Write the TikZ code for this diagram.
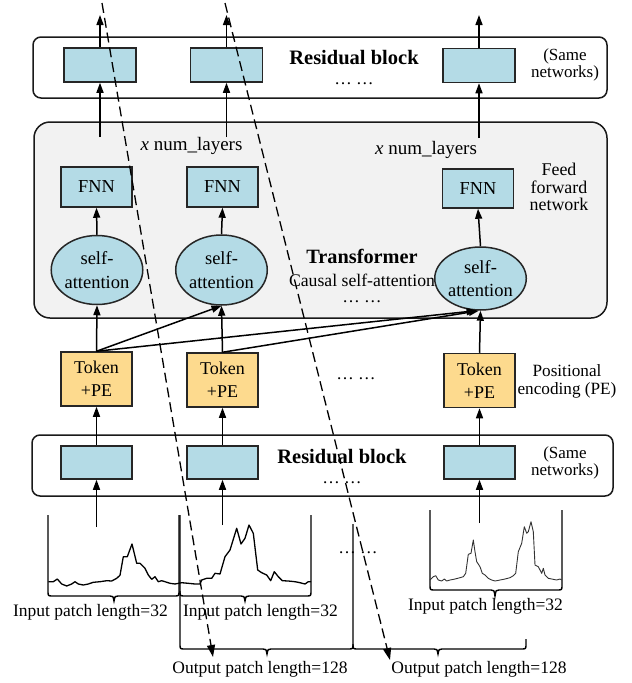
\documentclass[tikz,border=0pt]{standalone}
\usepackage{fontspec}
\setmainfont{Liberation Serif}
\usetikzlibrary{arrows.meta,shapes.geometric}
\definecolor{boxblue}{RGB}{180,219,230}
\definecolor{tokyellow}{RGB}{253,218,142}
\definecolor{panelgray}{RGB}{242,242,242}
\tikzset{
  blk/.style={draw=black!85, line width=1.5pt, fill=boxblue, minimum width=71pt, minimum height=33pt, inner sep=0pt},
  fnn/.style={blk, minimum height=40pt, font=\fontsize{18.3}{20}\selectfont},
  tok/.style={draw=black!85, line width=1.5pt, fill=tokyellow, minimum width=71pt, minimum height=54pt, inner sep=0pt, align=center, font=\fontsize{18}{23}\selectfont},
  att/.style={ellipse, draw=black!85, line width=1.5pt, fill=boxblue, minimum width=90pt, minimum height=69pt, inner sep=0pt, align=center, font=\fontsize{18.5}{23.5}\selectfont},
  arr/.style={-{Triangle[length=10pt,width=7pt]}, line width=1.5pt},
  dasharr/.style={-{Triangle[length=12pt,width=8pt]}, line width=1.3pt, dash pattern=on 10pt off 5pt},
  lbl/.style={font=\fontsize{17.5}{18}\selectfont, align=center, inner sep=0pt},
  big/.style={font=\fontsize{20.5}{22}\selectfont\bfseries, inner sep=0pt},
  frame/.style={draw=black!90, line width=1.5pt, rounded corners=8pt},
  sig/.style={line width=1.3pt, line join=round},
  brk/.style={line width=1.4pt}
}
\begin{document}
\begin{tikzpicture}[x=1pt,y=-1pt]
\useasboundingbox (0,0) rectangle (632,683);
% frames
\draw[frame] (33,37) rectangle (607,98);
\draw[frame, fill=panelgray, rounded corners=16pt] (34,122) rectangle (607,318);
\draw[frame] (32,435) rectangle (613,496);

% top residual block
\node[blk, minimum width=72pt, minimum height=34pt] (r1) at (100,65) {};
\node[blk, minimum width=72pt, minimum height=34pt] (r2) at (226.5,65) {};
\node[blk, minimum width=72pt, minimum height=34pt] (r3) at (479,65.5) {};
\node[big] (rbtop) at (354,58) {Residual block};
\node[lbl] (dtop) at (354,84) {…\ …};
\node[lbl, font=\fontsize{17}{16.5}\selectfont] (sn1) at (565,65) {(Same\\networks)};

% transformer
\node[fnn] (f1) at (96.5,187) {FNN};
\node[fnn] (f2) at (222.5,187) {FNN};
\node[fnn, minimum height=39pt] (f3) at (478,188.5) {FNN};
\node[att] (e1) at (97,270) {self-\\attention};
\node[att, minimum width=88pt, minimum height=70pt] (e2) at (221.5,270) {self-\\attention};
\node[att, minimum width=91pt, minimum height=63pt] (e3) at (480.5,278.5) {self-\\attention};
\node[lbl, font=\fontsize{19}{19}\selectfont] (nl1) at (191.5,146) {\textit{x} num\_layers};
\node[lbl, font=\fontsize{19}{19}\selectfont] (nl2) at (426,150) {\textit{x} num\_layers};
\node[lbl, font=\fontsize{17.9}{17.5}\selectfont] (ffn) at (559,187) {Feed\\forward\\network};
\node[big, font=\fontsize{20.3}{21}\selectfont\bfseries] (trf) at (362,256) {Transformer};
\node[lbl, font=\fontsize{17.7}{18}\selectfont] (csa) at (362,280) {Causal self-attention};
\node[lbl] (dtr) at (362,302) {…\ …};

% tokens
\node[tok] (t1) at (96.5,379) {Token\\+PE};
\node[tok] (t2) at (222.5,380) {Token\\+PE};
\node[tok] (t3) at (479.5,380.5) {Token\\+PE};
\node[lbl] (dtok) at (356,379) {…\ …};
\node[lbl, font=\fontsize{17.2}{18}\selectfont] (pe) at (567,381) {Positional\\encoding (PE)};

% bottom residual block
\node[blk] (b1) at (96.5,462.5) {};
\node[blk] (b2) at (222.5,462.5) {};
\node[blk] (b3) at (479.5,462.5) {};
\node[big] (rbbot) at (342,457) {Residual block};
\node[lbl] (dbot) at (342,483) {…\ …};
\node[lbl, font=\fontsize{17}{16.5}\selectfont] (sn2) at (565,463) {(Same\\networks)};

% coordinates for free ends
\coordinate (o1) at (100,15);
\coordinate (o2) at (226.5,15);
\coordinate (o3) at (479,15);
\coordinate (i1) at (100,137);
\coordinate (i2) at (226.5,137);
\coordinate (i3) at (479,138);
\coordinate (s1) at (96.5,527);
\coordinate (s2) at (222.5,525);
\coordinate (s3) at (479.5,523);

% arrows
\draw[arr] (r1.north) -- (o1);
\draw[arr] (r2.north) -- (o2);
\draw[arr] (r3.north) -- (o3);
\draw[arr] (i1) -- (r1.south);
\draw[arr] (i2) -- (r2.south);
\draw[arr] (i3) -- (r3.south);
\draw[arr] (e1.north) -- (f1.south);
\draw[arr] (e2.north) -- (f2.south);
\draw[arr] (e3.north) -- (f3.south);
\draw[arr] (t1.north) -- (e1.south);
\draw[arr] (t2.north) -- (e2.south);
\draw[arr] (t3.north) -- (e3.south);
\draw[arr] (t1.north) -- (e2.south);
\draw[arr] (t1.north) -- (e3.-97);
\draw[arr] (t2.north) -- (e3.-93);
\draw[arr] (b1.north) -- (t1.south);
\draw[arr] (b2.north) -- (t2.south);
\draw[arr] (b3.north) -- (t3.south);
\draw[arr] (s1) -- (b1.south);
\draw[arr] (s2) -- (b2.south);
\draw[arr] (s3) -- (b3.south);

% windows and braces
\draw[brk] (48,515) -- (48,591) .. controls (48,596) .. (53,596) -- (110,596) .. controls (113,596) .. (114,601) .. controls (115,596) .. (118,596) -- (174,596) .. controls (179,596) .. (179,591) -- (179,515);
\draw[brk] (180,515) -- (180,644) .. controls (180,649) .. (185,649) -- (263,649) .. controls (266,649) .. (267,654) .. controls (268,649) .. (271,649) -- (348,649) .. controls (353,649) .. (353,644) -- (353,524);
\draw[brk] (180,591) .. controls (180,596) .. (185,596) -- (241,596) .. controls (244,596) .. (245,601) .. controls (246,596) .. (249,596) -- (306,596) .. controls (311,596) .. (311,591) -- (311,515);
\draw[brk] (353,644) .. controls (353,649) .. (358,649) -- (434,649) .. controls (437,649) .. (438,654) .. controls (439,649) .. (442,649) -- (521,649) .. controls (526,649) .. (526,644) -- (526,639);
\draw[brk] (430,510) -- (430,585) .. controls (430,590) .. (435,590) -- (491,590) .. controls (494,590) .. (495,596) .. controls (496,590) .. (499,590) -- (557,590) .. controls (562,590) .. (562,585) -- (562,510);

% signals
\draw[sig] (48.3,581.7) -- (53.3,581.7) -- (57.3,579) -- (61.7,584) -- (66.7,586) -- (71.7,584) -- (75,581.7) -- (78.3,584) -- (83.3,585) -- (88.3,584) -- (93.3,582.3) -- (100,581.7) -- (106.7,580.7) -- (111.7,581) -- (116.7,578.3) -- (120,575.3) -- (123.3,556.7) -- (127.3,556.7) -- (132,544) -- (136.7,563.3) -- (140,563.3) -- (145,568.3) -- (148.3,575) -- (151.7,579.3) -- (155,576.7) -- (158.3,581.7) -- (161.7,580.7) -- (165,581.7) -- (170,583.3) -- (175,584) -- (181.7,582.7) -- (188.3,583.3) -- (195,584) -- (200,584) -- (201.7,580) -- (206.7,578.3) -- (211.7,578.3) -- (215,573.3) -- (220,574) -- (225,556.7) -- (230,550) -- (236.7,528.3) -- (241,544) -- (245,538.3) -- (249,525) -- (253.3,533.3) -- (257.7,570) -- (261.7,572.7) -- (266.7,575) -- (270.7,580.7) -- (274.3,571.7) -- (278.3,576.7) -- (282.3,580.7) -- (288.3,581) -- (295,581.7) -- (300,582.7) -- (305,584) -- (308.3,581.7) -- (311,581.7);
\draw[line width=0.9pt, black!80, line join=round] (430,580) -- (433.3,576.7) -- (435.7,575.7) -- (438.3,580) -- (441.7,581) -- (444.3,579) -- (446.7,581) -- (450,580) -- (455,579) -- (460,577.7) -- (463.3,576.7) -- (465.7,573.3) -- (468.3,554.3) -- (471,553.3) -- (473.3,540) -- (475,551.7) -- (476.7,561.7) -- (480,566.7) -- (482.3,573.3) -- (485,575) -- (488.3,578.3) -- (491.7,580) -- (495,581) -- (500,580) -- (505,579) -- (510,577.7) -- (513.3,575.7) -- (515.7,573.3) -- (518.3,551.7) -- (521.7,543.3) -- (524.3,526.7) -- (526.7,533.3) -- (528.3,531.7) -- (531,521.7) -- (533.3,531.7) -- (535,565) -- (538.3,566.7) -- (541.7,573.3) -- (543.3,568.3) -- (545,575) -- (548.3,578.3) -- (551.7,579) -- (556.7,580) -- (560,579) -- (561.7,580);
\node[lbl] (dsig) at (358,553) {…\ …};

% labels
\node[lbl] (in1) at (90.5,612) {Input patch length=32};
\node[lbl] (in2) at (260.5,612) {Input patch length=32};
\node[lbl] (in3) at (485.5,606) {Input patch length=32};
\node[lbl] (out1) at (260,669) {Output patch length=128};
\node[lbl] (out2) at (479,669) {Output patch length=128};

% dashed arrows
\coordinate (d1s) at (102,3);
\coordinate (d1e) at (213,657);
\coordinate (d2s) at (225,3);
\coordinate (d2e) at (390,660);
\draw[dasharr] (d1s) -- (d1e);
\draw[dasharr] (d2s) -- (d2e);
\end{tikzpicture}
\end{document}
